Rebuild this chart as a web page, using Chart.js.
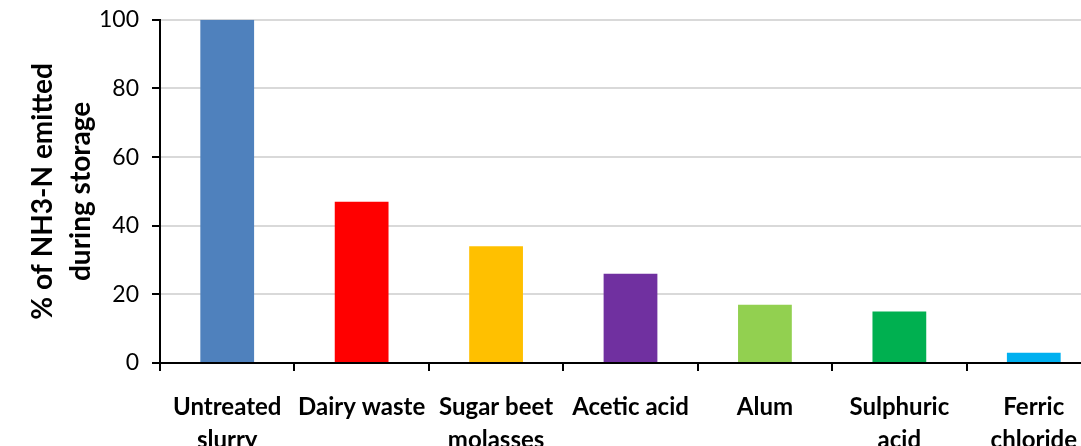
<!DOCTYPE html>
<html>
<head>
<meta charset="utf-8">
<script src="https://cdn.jsdelivr.net/npm/chart.js@4"></script>
<style>
  html, body { margin: 0; padding: 0; background: #fff; overflow: hidden; }
  #wrap { width: 1081px; height: 446px; overflow: hidden; position: relative; }
  canvas { display: block; margin-top: -7px; }
</style>
</head>
<body>
<div id="wrap"><canvas id="c" width="1102" height="470"></canvas></div>
<script>
// Treatments and share of stored-slurry NH3-N lost (untreated = 100)
const categories = [
  ["Untreated", "slurry"],
  "Dairy waste",
  ["Sugar beet", "molasses"],
  "Acetic acid",
  "Alum",
  ["Sulphuric", "acid"],
  ["Ferric", "chloride"]
];
const emittedPct = [100, 47, 34, 26, 17, 15, 3];
const barColors = ["#4F81BD", "#FF0000", "#FFC000", "#7030A0", "#92D050", "#00B050", "#00B0F0"];
const yTicks = [0, 20, 40, 60, 80, 100];
const yTitle = ["% of NH3-N emitted", "during storage"];

const FONT = "Lato, 'Open Sans', 'DejaVu Sans', sans-serif";

new Chart(document.getElementById("c"), {
  type: "bar",
  data: {
    labels: categories,
    datasets: [{
      data: emittedPct,
      backgroundColor: barColors,
      borderWidth: 0,
      barPercentage: 0.4,
      categoryPercentage: 1.0
    }]
  },
  options: {
    responsive: false,
    animation: false,
    devicePixelRatio: 1,
    layout: { padding: { top: 6, left: 0, right: 1, bottom: 0 } },
    plugins: { legend: { display: false }, tooltip: { enabled: false } },
    scales: {
      x: {
        offset: true,
        grid: {
          offset: true,
          drawOnChartArea: false,
          drawTicks: true,
          tickLength: 8,
          tickColor: "#000",
          lineWidth: 2
        },
        border: { display: true, color: "#000", width: 2 },
        ticks: {
          color: "#000",
          maxRotation: 0,
          autoSkip: false,
          padding: 20,
          font: { family: FONT, size: 24, weight: "bold", lineHeight: 1.38 }
        },
        afterFit(scale) { scale.height = 100; }
      },
      y: {
        min: 0,
        max: 100,
        afterBuildTicks(scale) { scale.ticks = yTicks.map(v => ({ value: v })); },
        grid: {
          color: "#d9d9d9",
          lineWidth: 2,
          drawTicks: true,
          tickLength: 8,
          tickColor: "#000"
        },
        border: { display: true, color: "#000", width: 2 },
        ticks: {
          color: "#000",
          padding: 13,
          font: { family: FONT, size: 23 }
        },
        title: {
          display: true,
          text: yTitle,
          color: "#000",
          padding: { top: 24, bottom: 0 },
          font: { family: FONT, size: 28, weight: "bold", lineHeight: 1.36 }
        },
        afterFit(scale) { scale.width = 160; }
      }
    }
  }
});
</script>
</body>
</html>
